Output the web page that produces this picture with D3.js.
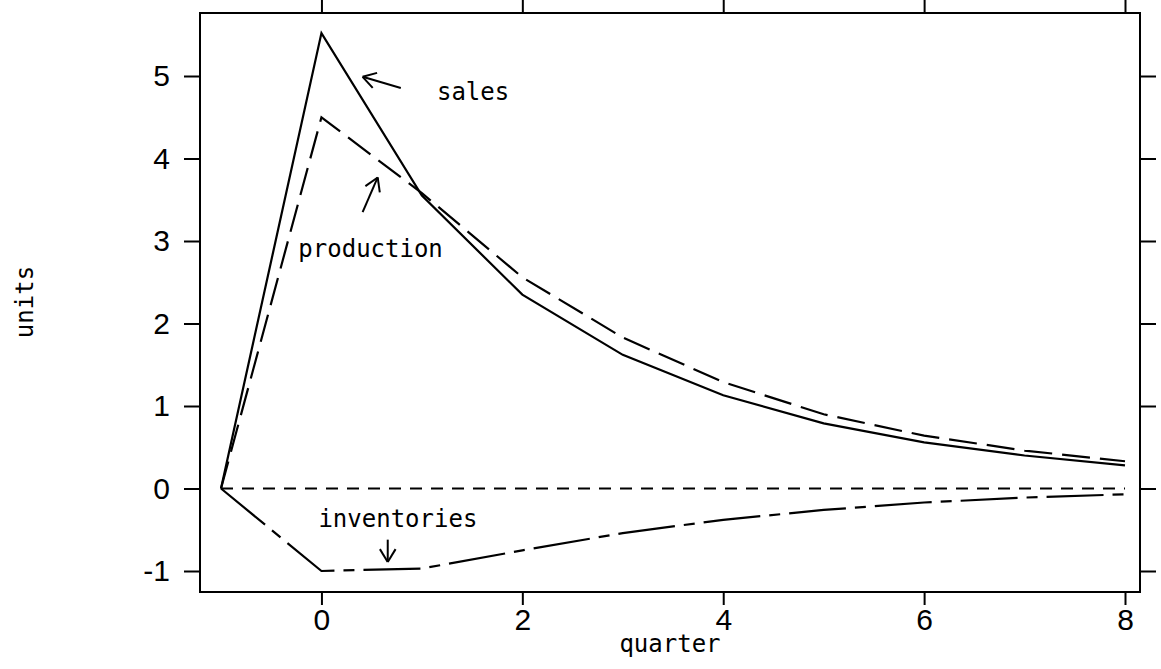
<!DOCTYPE html>
<html>
<head>
<meta charset="utf-8">
<script src="https://cdn.jsdelivr.net/npm/d3@7"></script>
<style>
  body { margin: 0; background: #fff; }
  .tick-label { font-family: "Liberation Sans", Arial, sans-serif; font-size: 30px; fill: #000; }
  .lbl { font-family: "DejaVu Sans Mono", monospace; font-size: 24px; fill: #000; }
</style>
</head>
<body>
<svg width="1161" height="669"></svg>
<script>
// quarters and series
var quarters = [-1, 0, 1, 2, 3, 4, 5, 6, 7, 8];
var sales = [0, 5.52, 3.55, 2.35, 1.62, 1.13, 0.79, 0.56, 0.40, 0.28];
var production = [0, 4.5, 3.58, 2.56, 1.83, 1.29, 0.90, 0.64, 0.46, 0.33];
var inventories = [0, -1.0, -0.97, -0.75, -0.54, -0.38, -0.26, -0.17, -0.11, -0.07];
var zeroLine = [0, 0, 0, 0, 0, 0, 0, 0, 0, 0];

var xTicks = [0, 2, 4, 6, 8];
var yTicks = [-1, 0, 1, 2, 3, 4, 5];

// annotations in data units: text anchor + arrow from/to
var notes = [
  {text: 'sales', tx: 1.15, ty: 4.71, x1: 0.79, y1: 4.855, x2: 0.41, y2: 4.99},
  {text: 'production', tx: -0.23, ty: 2.81, x1: 0.41, y1: 3.35, x2: 0.56, y2: 3.77},
  {text: 'inventories', tx: -0.03, ty: -0.47, x1: 0.66, y1: -0.62, x2: 0.66, y2: -0.89}
];

var svg = d3.select('svg');
var boxL = 200, boxR = 1140, boxT = 13, boxB = 592;

var x = d3.scaleLinear().domain([-1, 8]).range([221, 1125]);
var y = d3.scaleLinear().domain([-1, 5]).range([571, 76]);

// box
svg.append('rect')
    .attr('x', boxL).attr('y', boxT)
    .attr('width', boxR - boxL).attr('height', boxB - boxT)
    .attr('fill', 'none').attr('stroke', '#000').attr('stroke-width', 2);

// axes: ticks outward on all four sides, labels only bottom/left
svg.append('g')
    .attr('transform', 'translate(0,' + boxB + ')')
    .call(d3.axisBottom(x).tickValues(xTicks).tickSize(13).tickPadding(4).tickFormat(d3.format('d')))
    .call(function (g) { g.select('.domain').remove(); });
svg.append('g')
    .attr('transform', 'translate(0,' + boxT + ')')
    .call(d3.axisTop(x).tickValues(xTicks).tickSize(13).tickFormat(''))
    .call(function (g) { g.select('.domain').remove(); });
svg.append('g')
    .attr('transform', 'translate(' + boxL + ',0)')
    .call(d3.axisLeft(y).tickValues(yTicks).tickSize(16).tickPadding(14)
        .tickFormat(function (d) { return d < 0 ? '-' + Math.abs(d) : String(d); }))
    .call(function (g) { g.select('.domain').remove(); });
svg.append('g')
    .attr('transform', 'translate(' + boxR + ',0)')
    .call(d3.axisRight(y).tickValues(yTicks).tickSize(16).tickFormat(''))
    .call(function (g) { g.select('.domain').remove(); });

svg.selectAll('.tick line').attr('stroke', '#000').attr('stroke-width', 2);
svg.selectAll('.tick text').attr('class', 'tick-label').attr('font-size', null).attr('font-family', null);

// series
var line = d3.line()
    .x(function (d, i) { return x(quarters[i]); })
    .y(function (d) { return y(d); });

var series = [
  {values: zeroLine, dash: '12,9'},
  {values: sales, dash: null},
  {values: production, dash: '28,10'},
  {values: inventories, dash: '57,9,11,9'}
];

svg.append('g')
    .selectAll('path')
    .data(series)
    .enter()
    .append('path')
    .attr('d', function (d) { return line(d.values); })
    .attr('fill', 'none')
    .attr('stroke', '#000')
    .attr('stroke-width', 2.2)
    .attr('stroke-dasharray', function (d) { return d.dash; });

// annotations
var ann = svg.append('g');
notes.forEach(function (n) {
    ann.append('text').attr('class', 'lbl')
        .attr('x', x(n.tx)).attr('y', y(n.ty)).text(n.text);
    var x1 = x(n.x1), y1 = y(n.y1), x2 = x(n.x2), y2 = y(n.y2);
    ann.append('line')
        .attr('x1', x1).attr('y1', y1).attr('x2', x2).attr('y2', y2)
        .attr('stroke', '#000').attr('stroke-width', 2);
    var a = Math.atan2(y1 - y2, x1 - x2), len = 15, sp = 0.55;
    [a - sp, a + sp].forEach(function (b) {
        ann.append('line')
            .attr('x1', x2).attr('y1', y2)
            .attr('x2', x2 + len * Math.cos(b)).attr('y2', y2 + len * Math.sin(b))
            .attr('stroke', '#000').attr('stroke-width', 2);
    });
});

// axis titles
svg.append('text').attr('class', 'lbl')
    .attr('x', (boxL + boxR) / 2).attr('y', 652)
    .attr('text-anchor', 'middle').text('quarter');
svg.append('text').attr('class', 'lbl')
    .attr('transform', 'translate(33,' + 302 + ') rotate(-90)')
    .attr('text-anchor', 'middle').text('units');
</script>
</body>
</html>
